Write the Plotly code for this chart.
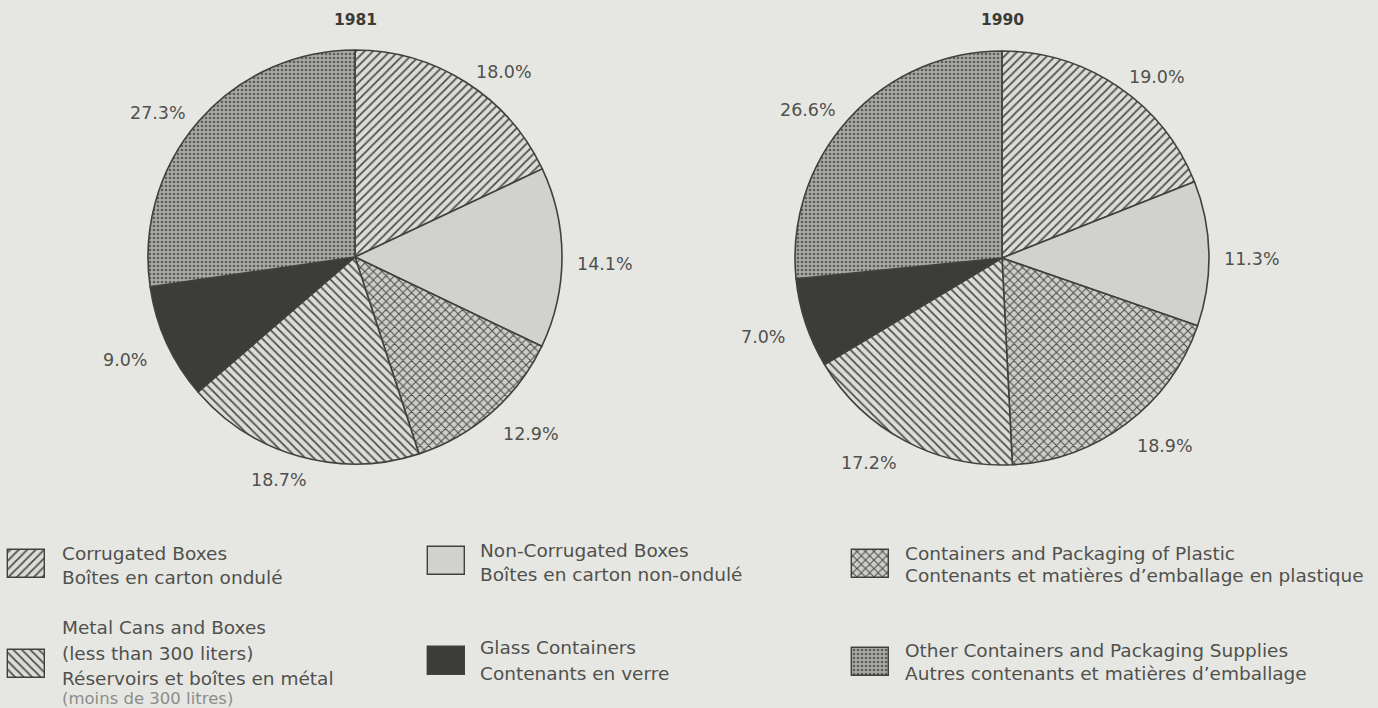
import math
import plotly.graph_objects as go

W, H = 1378, 708

# ---------------- data ----------------
categories = [
    "Corrugated Boxes",
    "Non-Corrugated Boxes",
    "Containers and Packaging of Plastic",
    "Metal Cans and Boxes",
    "Glass Containers",
    "Other Containers and Packaging Supplies",
]
years = ["1981", "1990"]
values_1981 = [18.0, 14.1, 12.9, 18.7, 9.0, 27.3]
values_1990 = [19.0, 11.3, 18.9, 17.2, 7.0, 26.6]

legend_lines = [
    ["Corrugated Boxes", "Boîtes en carton ondulé"],
    ["Non-Corrugated Boxes", "Boîtes en carton non-ondulé"],
    ["Containers and Packaging of Plastic", "Contenants et matières d’emballage en plastique"],
    ["Metal Cans and Boxes", "(less than 300 liters)", "Réservoirs et boîtes en métal", "(moins de 300 litres)"],
    ["Glass Containers", "Contenants en verre"],
    ["Other Containers and Packaging Supplies", "Autres contenants et matières d’emballage"],
]

# ---------------- styles ----------------
BG = "#e6e7e3"
EDGE = "#40413d"
TEXT = "#50514d"
FONT = "DejaVu Sans"

base_colors = ["#dcddd9", "#d1d2ce", "#cdceca", "#dcddd9", "#3c3d39", "#a9aaa6"]
pat_shapes = ["/", "", "x", "\\", "", "."]
pat_fg = ["#4f504c", "#d1d2ce", "#4a4b47", "#4f504c", "#3c3d39", "#5c5d59"]
pat_size = [6, 6, 6, 6, 6, 4]
pat_solid = [0.3, 0.3, 0.3, 0.3, 0.3, 0.35]

pie_centers = [(355, 257), (1002, 258)]
R = 207


def px_x(x):
    return x / W


def px_y(y):
    return 1 - y / H


fig = go.Figure()
annotations = []

for year, vals, (cx, cy) in zip(years, [values_1981, values_1990], pie_centers):
    fig.add_trace(go.Pie(
        labels=categories,
        values=vals,
        sort=False,
        direction="clockwise",
        rotation=0,
        textinfo="none",
        hoverinfo="label+value",
        domain=dict(x=[px_x(cx - R), px_x(cx + R)], y=[px_y(cy + R), px_y(cy - R)]),
        marker=dict(
            colors=base_colors,
            line=dict(color=EDGE, width=1.6),
            pattern=dict(shape=pat_shapes, fgcolor=pat_fg, bgcolor=base_colors,
                         size=pat_size, solidity=pat_solid, fillmode="replace"),
        ),
        showlegend=False,
    ))
    # title
    annotations.append(dict(x=px_x(cx), y=px_y(20), xref="paper", yref="paper",
                            text=f"<b>{year}</b>", showarrow=False,
                            font=dict(family=FONT, size=15.5, color="#3a3b37"),
                            xanchor="center", yanchor="middle"))
    # percentage labels placed just outside each slice's mid-angle
    cum = 0.0
    total = sum(vals)
    for v in vals:
        mid = (cum + v / 2) / total * 2 * math.pi
        cum += v
        dx, dy = math.sin(mid), math.cos(mid)
        ox = 33 * max(-1, min(1, 2 * dx))
        oy = 8 * max(-1, min(1, 2 * dy))
        lx = cx + (R + 10) * dx + ox
        ly = cy - (R + 10) * dy - oy + 6
        annotations.append(dict(x=px_x(lx), y=px_y(ly), xref="paper", yref="paper",
                                text=f"{v:.1f}%", showarrow=False,
                                font=dict(family=FONT, size=17.5, color=TEXT),
                                xanchor="center", yanchor="middle"))

# ---------------- custom legend ----------------
slots = [
    dict(sx=8, sy=550, tx=60, ty=[553, 577]),
    dict(sx=428, sy=547, tx=478, ty=[550, 574]),
    dict(sx=852, sy=550, tx=903, ty=[553, 575]),
    dict(sx=8, sy=650, tx=60, ty=[627, 653, 678, 698]),
    dict(sx=428, sy=647, tx=478, ty=[647, 673]),
    dict(sx=852, sy=648, tx=903, ty=[650, 673]),
]
SW, SH = 37, 28

for i, (slot, lines) in enumerate(zip(slots, legend_lines)):
    fig.add_trace(go.Bar(
        x=[slot["sx"] + SW / 2], y=[SH], base=[slot["sy"]], width=[SW],
        marker=dict(color=base_colors[i], line=dict(color=EDGE, width=1.4),
                    pattern=dict(shape=pat_shapes[i], fgcolor=pat_fg[i], bgcolor=base_colors[i],
                                 size=pat_size[i], solidity=pat_solid[i], fillmode="replace")),
        hoverinfo="skip", showlegend=False,
    ))
    for j, (line, ty) in enumerate(zip(lines, slot["ty"])):
        last_faded = (i == 3 and j == 3)
        annotations.append(dict(x=px_x(slot["tx"]), y=px_y(ty), xref="paper", yref="paper",
                                text=line, showarrow=False,
                                font=dict(family=FONT, size=16.5 if last_faded else 18.5,
                                          color="#8c8d89" if last_faded else TEXT),
                                xanchor="left", yanchor="middle"))

fig.update_layout(
    width=W, height=H,
    margin=dict(l=0, r=0, t=0, b=0),
    paper_bgcolor=BG, plot_bgcolor="rgba(0,0,0,0)",
    showlegend=False,
    barmode="overlay",
    bargap=0,
    xaxis=dict(range=[0, W], domain=[0, 1], visible=False, fixedrange=True),
    yaxis=dict(range=[H, 0], domain=[0, 1], visible=False, fixedrange=True),
    annotations=annotations,
)

fig.write_html("out.html", config={"displayModeBar": False},
               post_script="document.body.style.margin='0px';")
